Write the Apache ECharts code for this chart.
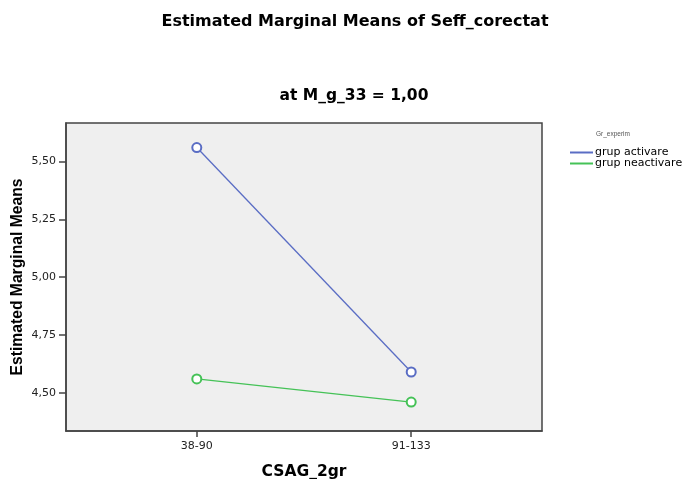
<!DOCTYPE html>
<html>
<head>
<meta charset="utf-8">
<script src="https://cdn.jsdelivr.net/npm/echarts@6/dist/echarts.min.js"></script>
<style>
  html, body { margin: 0; padding: 0; background: #fff; }
  #main { width: 689px; height: 479px; }
</style>
</head>
<body>
<div id="main"></div>
<script>
// CSAG_2gr groups on the x axis (placed at 0 and 1)
const categories = ['38-90', '91-133']
const activare = [5.56, 4.59]
const neactivare = [4.56, 4.46]
const yTicks = [4.5, 4.75, 5.0, 5.25, 5.5]
const seriesNames = ['grup activare', 'grup neactivare']

// the reference is stretched sideways, a wider face gets closer
const wide = "'DejaVu Sans', sans-serif"
const narrow = "'Liberation Sans', Arial, sans-serif"
const colors = ['#5a6dc4', '#45c257']

function toPoints(values) {
  return values.map((v, i) => [i, v])
}

const chart = echarts.init(document.getElementById('main'))

const option = {
  animation: false,
  textStyle: { fontFamily: wide },
  title: [
    {
      text: 'Estimated Marginal Means of Seff_corectat',
      left: 350,
      top: 9,
      textAlign: 'center',
      textStyle: { fontFamily: wide, fontSize: 16, fontWeight: 'bold', color: '#000' },
    },
    {
      text: 'at M_g_33 = 1,00',
      left: 349,
      top: 83,
      textAlign: 'center',
      textStyle: { fontFamily: wide, fontSize: 15.5, fontWeight: 'bold', color: '#000' },
    },
    {
      text: 'Gr_experim',
      left: 608,
      top: 126,
      textAlign: 'center',
      textStyle: { fontFamily: narrow, fontSize: 6.5, fontWeight: 'normal', color: '#555' },
    },
  ],
  legend: {
    orient: 'vertical',
    left: 570,
    top: 147,
    padding: 0,
    itemWidth: 23,
    itemHeight: 2,
    itemGap: 0,
    icon: 'rect',
    data: seriesNames,
    textStyle: { fontFamily: wide, fontSize: 11, lineHeight: 9, color: '#000', padding: [0, 0, 0, -3] },
  },
  grid: {
    left: 66,
    top: 123,
    width: 476,
    height: 308,
    containLabel: false,
    outerBoundsMode: 'none',
    show: true,
    backgroundColor: '#efefef',
    borderColor: '#444',
    borderWidth: 1.5,
  },
  xAxis: {
    type: 'value',
    min: -0.61,
    max: 1.61,
    name: 'CSAG_2gr',
    nameLocation: 'middle',
    nameGap: 33,
    nameMoveOverlap: false,
    nameTextStyle: { fontFamily: wide, fontSize: 15.5, fontWeight: 'bold', color: '#000' },
    axisLine: { show: true, onZero: false, lineStyle: { color: '#444', width: 1.5 } },
    axisTick: { show: true, length: 6, customValues: [0, 1], lineStyle: { color: '#444', width: 1.5 } },
    axisLabel: {
      customValues: [0, 1],
      formatter: v => categories[Math.round(v)],
      fontFamily: wide,
      fontSize: 11,
      color: '#222',
      margin: 10,
    },
    splitLine: { show: false },
  },
  yAxis: {
    type: 'value',
    min: 4.335,
    max: 5.666,
    name: 'Estimated Marginal Means',
    nameLocation: 'middle',
    nameRotate: 90,
    nameGap: 40,
    nameMoveOverlap: false,
    nameTextStyle: { fontFamily: narrow, fontSize: 15.7, fontWeight: 'bold', color: '#000' },
    axisLine: { show: true, onZero: false, lineStyle: { color: '#444', width: 1.5 } },
    axisTick: { show: true, length: 7, customValues: yTicks, lineStyle: { color: '#444', width: 1.5 } },
    axisLabel: {
      customValues: yTicks,
      formatter: v => v.toFixed(2).replace('.', ','),
      fontFamily: wide,
      fontSize: 11,
      color: '#222',
      margin: 10,
    },
    splitLine: { show: false },
  },
  series: [
    {
      name: seriesNames[0],
      type: 'line',
      data: toPoints(activare),
      symbol: 'emptyCircle',
      symbolSize: 9,
      color: colors[0],
      lineStyle: { width: 1.3, color: colors[0] },
      itemStyle: { color: colors[0], borderWidth: 1.1 },
    },
    {
      name: seriesNames[1],
      type: 'line',
      data: toPoints(neactivare),
      symbol: 'emptyCircle',
      symbolSize: 9,
      color: colors[1],
      lineStyle: { width: 1.3, color: colors[1] },
      itemStyle: { color: colors[1], borderWidth: 1.1 },
    },
  ],
}

chart.setOption(option)
</script>
</body>
</html>
